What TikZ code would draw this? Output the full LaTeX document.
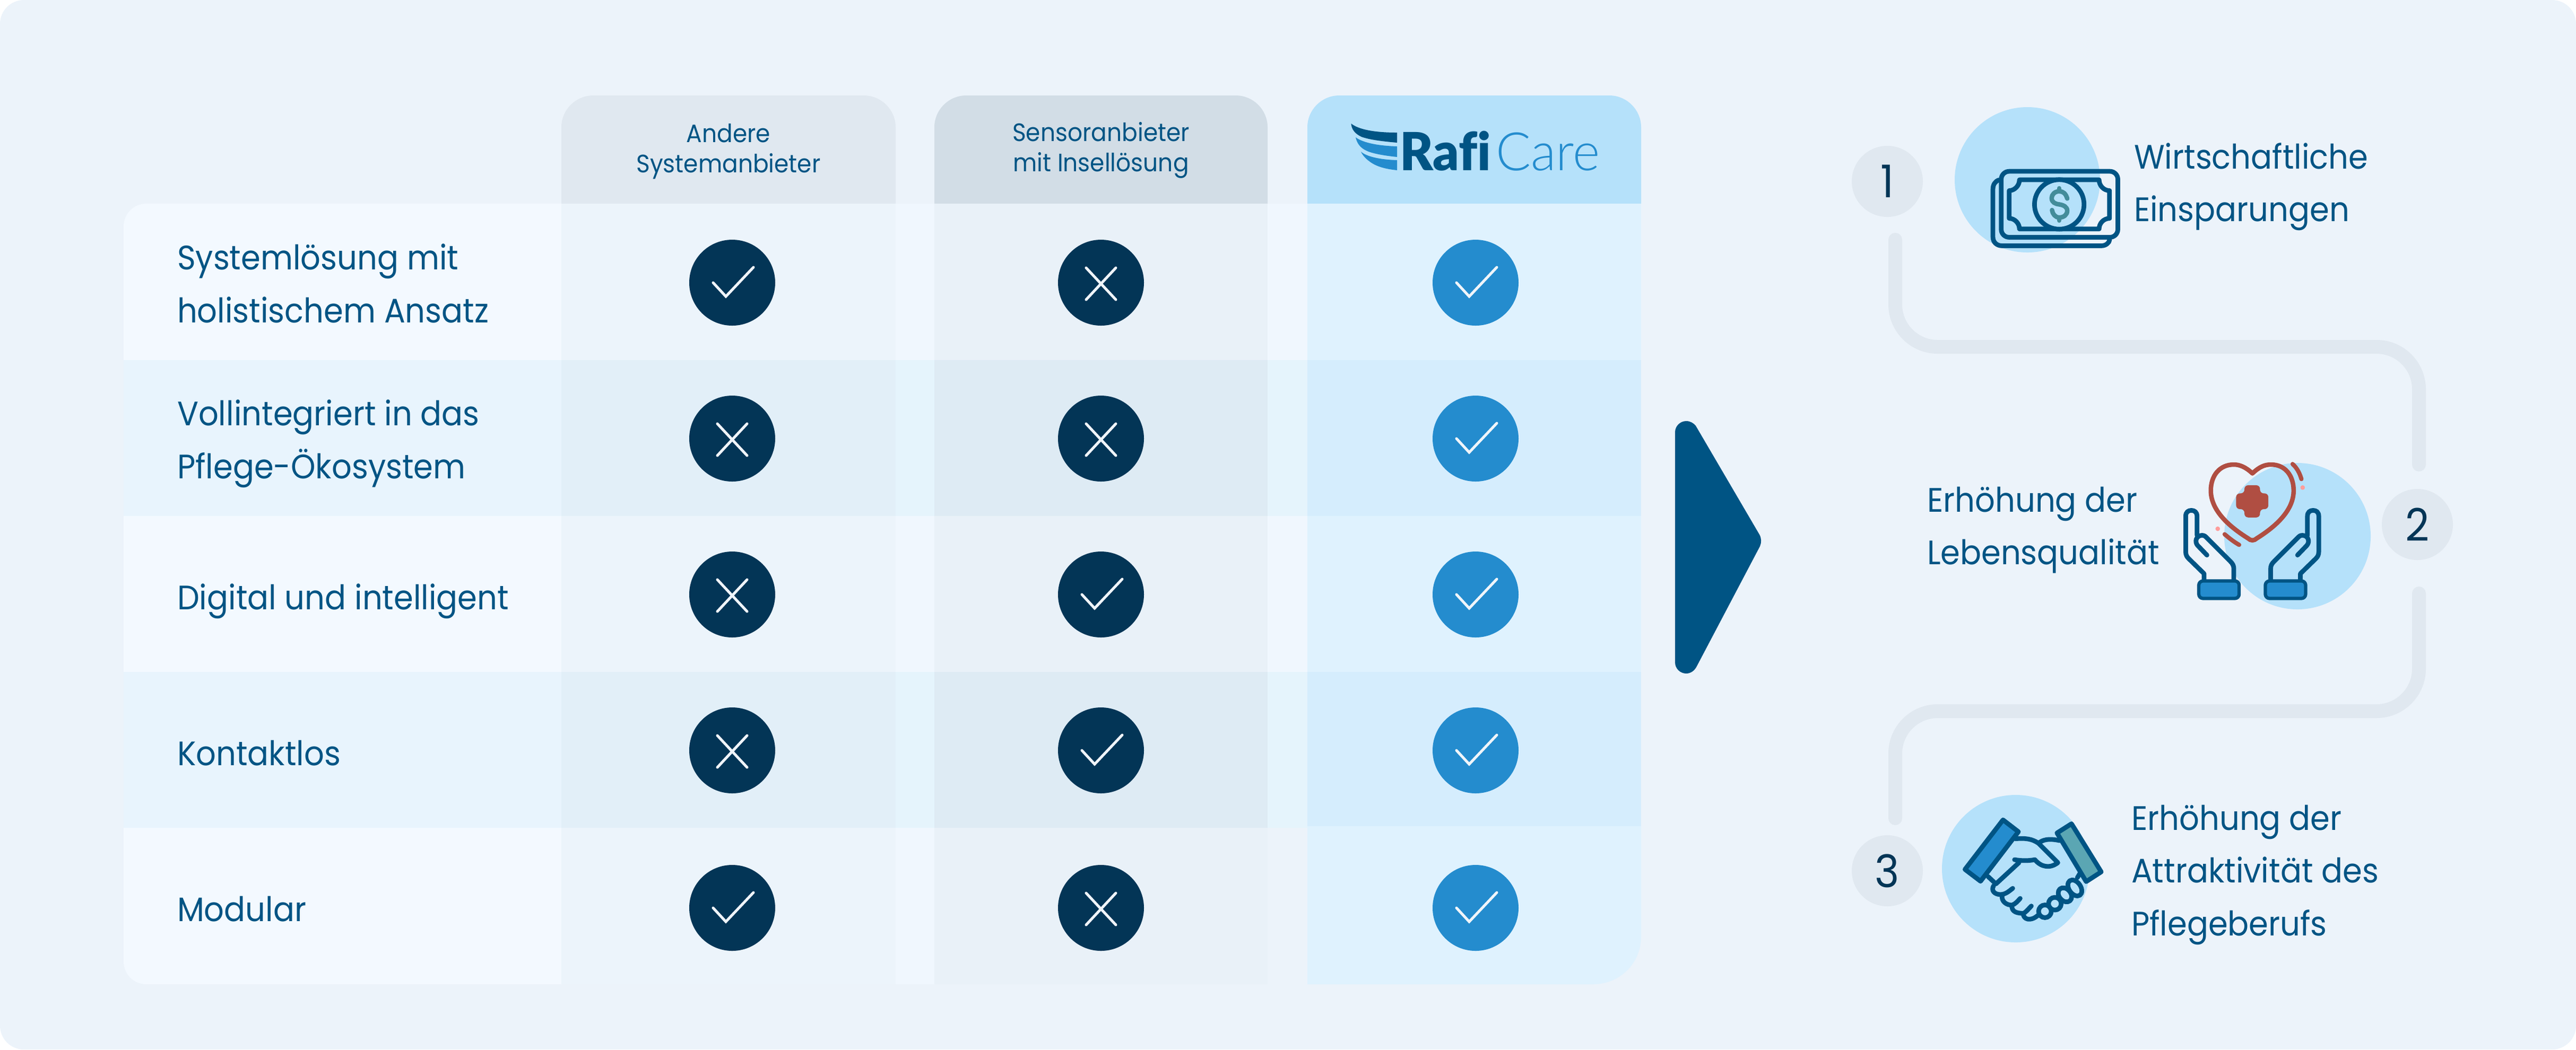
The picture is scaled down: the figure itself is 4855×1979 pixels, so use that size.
\documentclass[tikz,border=0pt]{standalone}
\usepackage{fontspec}
\newfontfamily\lblfont[FakeStretch=0.925]{Poppins}
\newfontfamily\rafifont[FakeStretch=0.97,Ligatures=NoCommon]{Lato Black}
\newfontfamily\carefont[FakeStretch=0.98]{Lato Light}
\definecolor{bgc}{HTML}{ECF3FA}
\definecolor{navy}{HTML}{005484}
\definecolor{darkc}{HTML}{033556}
\definecolor{bluec}{HTML}{248CCE}
\definecolor{heada}{HTML}{E0E8F0}
\definecolor{headb}{HTML}{D2DDE6}
\definecolor{headc}{HTML}{B5E1FA}
\definecolor{oddl}{HTML}{F3F9FF}
\definecolor{evenl}{HTML}{E8F4FD}
\definecolor{odda}{HTML}{ECF4FB}
\definecolor{evena}{HTML}{E2EFF8}
\definecolor{oddb}{HTML}{E9F1F8}
\definecolor{evenb}{HTML}{DEEBF4}
\definecolor{oddg}{HTML}{F0F7FE}
\definecolor{eveng}{HTML}{E5F4FC}
\definecolor{oddr}{HTML}{DFF2FE}
\definecolor{evenr}{HTML}{D5EDFD}
\definecolor{markc}{HTML}{F0F5FA}
\definecolor{redc}{HTML}{B04E42}
\definecolor{pinkc}{HTML}{FF9D9B}
\definecolor{tealc}{HTML}{438C9A}
\definecolor{cuffc}{HTML}{5BA6B3}
\tikzset{
  lbl/.style={anchor=base west,inner sep=0pt,text=navy,align=left,font=\lblfont\fontsize{12.8}{19.9}\selectfont},
  headlbl/.style={anchor=base,inner sep=0pt,text=navy,align=center,font=\lblfont\fontsize{9.5}{11.4}\selectfont},
  dotnode/.style={circle,inner sep=0pt,minimum size=32.4pt},
  nodark/.style={dotnode,fill=darkc},
  yesblue/.style={dotnode,fill=bluec},
  badge/.style={circle,inner sep=0pt,minimum size=26.8pt,fill=heada,text=darkc,font=\lblfont\fontsize{17}{17}\selectfont},
  halo/.style={circle,inner sep=0pt,fill=headc},
  conn/.style={draw=heada,line width=5.2pt,line cap=round,rounded corners=16pt},
  tick/.style={draw=markc,line width=1pt,line cap=round,line join=miter},
  ico/.style={draw=navy,line width=1.75pt,line cap=round,line join=round},
}
\newcommand\yesmark[1]{\draw[tick] ([shift={(-36,0)}]#1.center) -- ([shift={(-12,26)}]#1.center) -- ([shift={(40,-29)}]#1.center);}
\newcommand\nomark[1]{\draw[tick] ([shift={(-28,-28)}]#1.center) -- ([shift={(28,32)}]#1.center);\draw[tick] ([shift={(28,-28)}]#1.center) -- ([shift={(-28,32)}]#1.center);}
\newcommand\handicon{%
  \draw[ico] (272,478) -- (272,370) .. controls (272,347) and (258,337) .. (240,337) .. controls (222,337) and (208,347) .. (208,370) -- (208,570) .. controls (208,590) and (215,600) .. (225,610) -- (312,695) -- (312,735);
  \draw[ico] (328,590) -- (275,535) .. controls (258,515) and (265,480) .. (300,478) .. controls (315,478) and (320,485) .. (330,495) -- (460,625) .. controls (475,640) and (480,650) .. (480,670) -- (480,735);
  \draw[ico,fill=bluec,line width=1.25pt,rounded corners=1.6pt] (282,736) rectangle (510,835);
}
\begin{document}
\begin{tikzpicture}[x=0.2pt,y=-0.2pt]
\useasboundingbox (0,0) rectangle (4855,1979);
\fill[bgc,rounded corners=9pt] (0,0) rectangle (4855,1979);

% header tabs
\fill[heada] (1058,384) -- (1058,240) .. controls (1058,207) and (1085,180) .. (1118,180) -- (1628,180) .. controls (1661,180) and (1688,207) .. (1688,240) -- (1688,384) -- cycle;
\fill[headb] (1761,384) -- (1761,240) .. controls (1761,207) and (1788,180) .. (1821,180) -- (2329,180) .. controls (2362,180) and (2389,207) .. (2389,240) -- (2389,384) -- cycle;
\fill[headc] (2464,384) -- (2464,240) .. controls (2464,207) and (2491,180) .. (2524,180) -- (3033,180) .. controls (3066,180) and (3093,207) .. (3093,240) -- (3093,384) -- cycle;

% rows: label column
\fill[oddl] (1058,679) -- (233,679) -- (233,427) .. controls (233,403) and (252,384) .. (276,384) -- (1058,384) -- cycle;
\fill[evenl] (233,679) rectangle (1058,973);
\fill[oddl] (233,973) rectangle (1058,1267);
\fill[evenl] (233,1267) rectangle (1058,1561);
\fill[oddl] (1058,1561) -- (233,1561) -- (233,1813) .. controls (233,1837) and (252,1856) .. (276,1856) -- (1058,1856) -- cycle;
% rows: first provider column
\fill[odda] (1058,384) rectangle (1688,679);
\fill[evena] (1058,679) rectangle (1688,973);
\fill[odda] (1058,973) rectangle (1688,1267);
\fill[evena] (1058,1267) rectangle (1688,1561);
\fill[odda] (1058,1561) rectangle (1688,1856);
% rows: gap
\fill[oddg] (1688,384) rectangle (1761,679);
\fill[eveng] (1688,679) rectangle (1761,973);
\fill[oddg] (1688,973) rectangle (1761,1267);
\fill[eveng] (1688,1267) rectangle (1761,1561);
\fill[oddg] (1688,1561) rectangle (1761,1856);
% rows: second provider column
\fill[oddb] (1761,384) rectangle (2389,679);
\fill[evenb] (1761,679) rectangle (2389,973);
\fill[oddb] (1761,973) rectangle (2389,1267);
\fill[evenb] (1761,1267) rectangle (2389,1561);
\fill[oddb] (1761,1561) rectangle (2389,1856);
% rows: gap
\fill[oddg] (2389,384) rectangle (2464,679);
\fill[eveng] (2389,679) rectangle (2464,973);
\fill[oddg] (2389,973) rectangle (2464,1267);
\fill[eveng] (2389,1267) rectangle (2464,1561);
% rows: RafiCare column
\fill[oddr] (2464,384) rectangle (3093,679);
\fill[evenr] (2464,679) rectangle (3093,973);
\fill[oddr] (2464,973) rectangle (3093,1267);
\fill[evenr] (2464,1267) rectangle (3093,1558);
\fill[oddr] (2464,1558) -- (3093,1558) -- (3093,1766) .. controls (3093,1816) and (3053,1856) .. (3003,1856) -- (2464,1856) -- cycle;

% header texts
\node[headlbl] (h1) at (1373,325) {Andere\\Systemanbieter};
\node[headlbl] (h2) at (2075,323) {Sensoranbieter\\mit Insellösung};

% logo
\fill[navy] (2546.5,233) .. controls (2560,244) and (2590,250) .. (2633,250) -- (2633,269) .. controls (2600,266) and (2580,263) .. (2566,258) .. controls (2553,252) and (2547,243) .. (2546.5,233) -- cycle;
\fill[bluec] (2555,259) .. controls (2570,270) and (2600,275) .. (2633,276) -- (2633,296) .. controls (2605,293) and (2585,289) .. (2575,284) .. controls (2562,278) and (2557,268) .. (2555,259) -- cycle;
\fill[bluec] (2565,286) .. controls (2575,295) and (2600,301) .. (2633,302) -- (2633,321) .. controls (2605,318) and (2590,312) .. (2578,302) .. controls (2572,297) and (2567,291) .. (2565,286) -- cycle;
\node[anchor=base west,inner sep=0pt,text=navy,font=\rafifont\fontsize{19.8}{20}\selectfont] (rafi) at (2637,321) {Rafi};
\node[anchor=base west,inner sep=0pt,text=bluec,font=\carefont\fontsize{20}{20}\selectfont] (care) at (2818,321) {Care};

% row labels
\node[lbl] (l1) at (333,608) {Systemlösung mit\\holistischem Ansatz};
\node[lbl] (l2) at (333,902) {Vollintegriert in das\\Pflege-Ökosystem};
\node[lbl] (l3) at (333,1149) {Digital und intelligent};
\node[lbl] (l4) at (333,1443) {Kontaktlos};
\node[lbl] (l5) at (333,1737) {Modular};

% marks
\node[nodark] (a1) at (1380,533) {}; \yesmark{a1}
\node[nodark] (a2) at (1380,827) {}; \nomark{a2}
\node[nodark] (a3) at (1380,1121) {}; \nomark{a3}
\node[nodark] (a4) at (1380,1415) {}; \nomark{a4}
\node[nodark] (a5) at (1380,1712) {}; \yesmark{a5}
\node[nodark] (b1) at (2075,533) {}; \nomark{b1}
\node[nodark] (b2) at (2075,827) {}; \nomark{b2}
\node[nodark] (b3) at (2075,1121) {}; \yesmark{b3}
\node[nodark] (b4) at (2075,1415) {}; \yesmark{b4}
\node[nodark] (b5) at (2075,1712) {}; \nomark{b5}
\node[yesblue] (c1) at (2781,533) {}; \yesmark{c1}
\node[yesblue] (c2) at (2781,827) {}; \yesmark{c2}
\node[yesblue] (c3) at (2781,1121) {}; \yesmark{c3}
\node[yesblue] (c4) at (2781,1415) {}; \yesmark{c4}
\node[yesblue] (c5) at (2781,1712) {}; \yesmark{c5}

% big arrow
\fill[navy] (3157,815) .. controls (3157,803) and (3167,794) .. (3178,794) .. controls (3186,794) and (3192,798) .. (3196,803) -- (3316,1008) .. controls (3320,1015) and (3320,1023) .. (3317,1030) -- (3197,1258) .. controls (3193,1265) and (3186,1270) .. (3178,1270) .. controls (3167,1270) and (3157,1261) .. (3157,1249) -- cycle;

% path between the badges
\coordinate (p1) at (3572,452);
\coordinate (p2) at (3572,654);
\coordinate (p3) at (4559,654);
\coordinate (p4) at (4559,876);
\coordinate (q1) at (4559,1119);
\coordinate (q2) at (4559,1341);
\coordinate (q3) at (3572,1341);
\coordinate (q4) at (3572,1543);
\draw[conn] (p1) -- (p2) -- (p3) -- (p4);
\draw[conn] (q1) -- (q2) -- (q3) -- (q4);

% badges
\node[badge] (n1) at (3557,342) {1};
\node[badge] (n2) at (4556,989) {2};
\node[badge] (n3) at (3557,1642) {3};

% halos
\node[halo,minimum size=54.8pt] (h1c) at (3821,339) {};
\node[halo,minimum size=55.2pt] (h2c) at (4330,1011) {};
\node[halo,minimum size=55.6pt] (h3c) at (3799,1638) {};

% money icon
\begin{scope}[shift={(3680,190)},x=0.0667pt,y=-0.0667pt]
\draw[ico] (262,448) .. controls (240,455) and (228,475) .. (228,500) -- (228,770) .. controls (228,800) and (250,820) .. (280,820) -- (840,820) .. controls (865,820) and (885,805) .. (888,785);
\draw[ico,rounded corners=3pt] (275,399) rectangle (934,772);
\draw[ico] (378,447) -- (828,447) .. controls (828,480) and (855,508) .. (887,508) -- (887,665) .. controls (855,665) and (828,692) .. (828,725) -- (378,725) .. controls (378,692) and (350,665) .. (320,665) -- (320,508) .. controls (350,508) and (378,480) .. (378,447) -- cycle;
\draw[ico,fill=headc] (603,586) circle [radius=140];
\draw[ico,draw=tealc,line width=1.7pt] (648,553) .. controls (640,525) and (625,512) .. (603,512) .. controls (578,512) and (560,530) .. (560,550) .. controls (560,575) and (580,583) .. (603,586) .. controls (628,590) and (648,600) .. (648,622) .. controls (648,645) and (628,660) .. (603,660) .. controls (580,660) and (565,640) .. (562,618);
\draw[ico,draw=tealc,line width=1.7pt] (603,495) -- (603,512) (603,660) -- (603,677);
\end{scope}

% heart and hands icon
\begin{scope}[shift={(4050,850)},x=0.0667pt,y=-0.0667pt]
\draw[ico,draw=redc,line width=1.7pt] (585,128) .. controls (545,90) and (510,78) .. (480,78) .. controls (400,78) and (350,140) .. (350,225) .. controls (350,330) and (440,420) .. (560,495) .. controls (575,510) and (595,510) .. (610,495) .. controls (730,420) and (818,330) .. (818,225) .. controls (818,140) and (770,78) .. (690,78) .. controls (655,78) and (625,90) .. (585,128) -- cycle;
\fill[redc,rounded corners=1.4pt] (540,195) -- (628,195) -- (628,241) -- (675,241) -- (675,330) -- (628,330) -- (628,377) -- (540,377) -- (540,330) -- (493,330) -- (493,241) -- (540,241) -- cycle;
\draw[ico,draw=redc,line width=1.6pt] (812,75) .. controls (835,95) and (852,125) .. (862,160);
\draw[ico,draw=redc,line width=1.6pt] (428,472) .. controls (455,495) and (480,515) .. (510,532);
\fill[pinkc] (869,208) circle [radius=13];
\fill[pinkc] (389,441) circle [radius=13];
\handicon
\begin{scope}[shift={(1168,0)},xscale=-1]
\handicon
\end{scope}
\end{scope}

% handshake icon
\begin{scope}[shift={(3650,1490)},x=0.0667pt,y=-0.0667pt]
\draw[ico,fill=bluec] (375,168) -- (462,235) -- (248,515) -- (160,448) -- cycle;
\draw[ico,fill=cuffc] (762,190) -- (930,462) -- (845,517) -- (680,242) -- cycle;
\draw[ico] (445,275) .. controls (500,270) and (540,275) .. (575,300) -- (685,410) .. controls (640,445) and (590,435) .. (555,393) .. controls (520,400) and (480,400) .. (440,393);
\draw[ico] (465,410) -- (335,530) -- (290,488);
\draw[ico] (322,540) .. controls (305,570) and (330,590) .. (360,590) .. controls (390,590) and (410,570) .. (430,555);
\draw[ico] (370,595) .. controls (365,630) and (395,650) .. (425,650) .. controls (445,645) and (460,625) .. (472,612);
\draw[ico] (425,655) .. controls (425,690) and (455,695) .. (490,697) .. controls (505,690) and (520,670) .. (535,655);
\draw[ico] (490,700) .. controls (490,730) and (530,745) .. (572,708);
\draw[ico] (582,295) .. controls (610,275) and (650,275) .. (695,285);
\draw[ico] (810,470) -- (795,495);
\draw[ico] (612,685) circle [radius=36];
\draw[ico] (668,642) circle [radius=36];
\draw[ico,shift={(725,592)},rotate=-50] (0,0) ellipse [x radius=44,y radius=33];
\draw[ico,shift={(781,553)},rotate=-55] (0,0) ellipse [x radius=50,y radius=33];
\end{scope}

% right texts
\node[lbl] (t1) at (4021,417.5) {Wirtschaftliche\\Einsparungen};
\node[lbl] (t2) at (3631,1064.5) {Erhöhung der\\Lebensqualität};
\node[lbl] (t3) at (4016,1764) {Erhöhung der\\Attraktivität des\\Pflegeberufs};
\end{tikzpicture}
\end{document}
